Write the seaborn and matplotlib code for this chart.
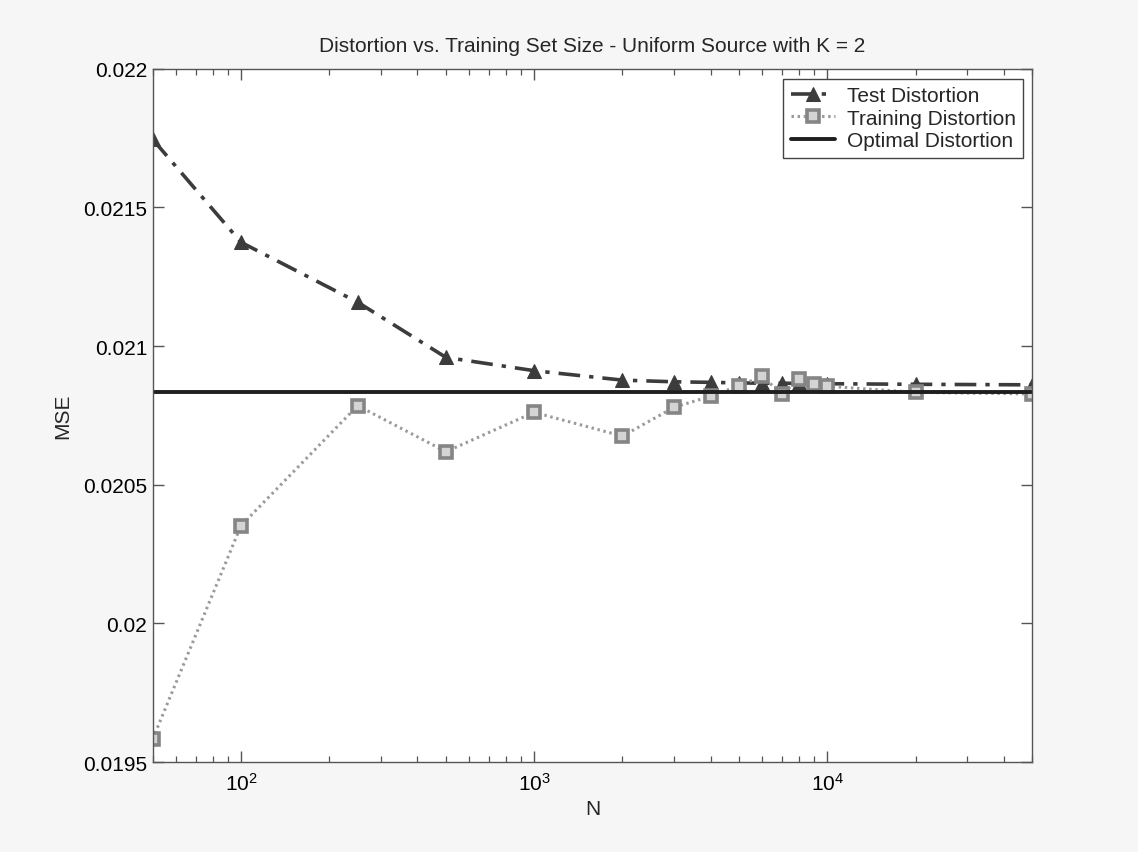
import numpy as np
import pandas as pd
import matplotlib
matplotlib.use("Agg")
import matplotlib.pyplot as plt
import seaborn as sns

# Training set sizes
n_values = [50, 100, 250, 500, 1000, 2000, 3000, 4000, 5000, 6000, 7000, 8000, 9000, 10000, 20000, 50000]
# Distortion measured on an independent test set
test_mse = [0.021745, 0.021374, 0.021158, 0.020959, 0.020911, 0.020877, 0.020871, 0.020869,
            0.020867, 0.020866, 0.020866, 0.020865, 0.020863, 0.020864, 0.020862, 0.020860]
# Distortion on the training set itself
train_mse = [0.019583, 0.020352, 0.020785, 0.020619, 0.020761, 0.020675, 0.020779, 0.020819,
             0.020857, 0.020891, 0.020826, 0.020881, 0.020863, 0.020855, 0.020833, 0.020827]
# Optimal distortion for a uniform source, K = 2 (1/48)
optimal_mse = 1.0 / 48.0

sns.set_theme(style="white")
plt.rcParams["font.family"] = ["Liberation Sans", "DejaVu Sans"]
plt.rcParams["mathtext.default"] = "regular"

df = pd.DataFrame({"N": n_values, "test": test_mse, "train": train_mse})

fig = plt.figure(figsize=(11.38, 8.53), dpi=100)
fig.patch.set_facecolor("#f6f6f6")
ax = fig.add_axes([0.1342, 0.1055, 0.9071 - 0.1342, 0.9183 - 0.1055])
ax.set_facecolor("white")

sns.lineplot(data=df, x="N", y="test", ax=ax, color="#3c3c3c", linewidth=2.6,
             linestyle=(0, (6, 2.5, 1.2, 2.5)), marker="^", markersize=10,
             markerfacecolor="#3c3c3c", markeredgecolor="#3c3c3c",
             label="Test Distortion")
sns.lineplot(data=df, x="N", y="train", ax=ax, color="#9a9a9a", linewidth=2.2,
             linestyle=(0, (0.8, 1.2)), marker="s", markersize=9,
             markerfacecolor="#d4d4d4", markeredgecolor="#858585", markeredgewidth=2.6,
             label="Training Distortion")
ax.axhline(optimal_mse, color="#1e1e1e", linewidth=2.8, label="Optimal Distortion")

ax.set_xscale("log")
ax.set_xlim(50, 50000)
ax.set_ylim(0.0195, 0.022)
ax.set_yticks([0.0195, 0.02, 0.0205, 0.021, 0.0215, 0.022])
ax.set_yticklabels(["0.0195", "0.02", "0.0205", "0.021", "0.0215", "0.022"])

for side in ["top", "bottom", "left", "right"]:
    ax.spines[side].set_visible(True)
    ax.spines[side].set_color("#555555")
    ax.spines[side].set_linewidth(1.0)

ax.tick_params(which="both", direction="in", top=True, right=True, bottom=True, left=True,
               color="#555555", labelsize=15, labelcolor="black")
ax.tick_params(which="major", length=8, width=1.0)
ax.tick_params(axis="y", which="major", pad=4)
ax.tick_params(axis="x", which="major", pad=7)
ax.tick_params(which="minor", length=4, width=0.9)
ax.minorticks_on()
ax.yaxis.set_minor_locator(matplotlib.ticker.NullLocator())

ax.set_xlabel("N", fontsize=15, labelpad=4)
ax.set_ylabel("MSE", fontsize=15, labelpad=8)
ax.set_title("Distortion vs. Training Set Size - Uniform Source with K = 2", fontsize=15, pad=13)

leg = ax.legend(loc="upper right", fontsize=15, frameon=True, fancybox=False,
                edgecolor="#444444", framealpha=1.0, borderpad=0.35, borderaxespad=0.0,
                handlelength=2.1, handletextpad=0.6, labelspacing=0.18,
                bbox_to_anchor=(0.9898, 0.9856))
leg.get_frame().set_linewidth(1.0)

fig.savefig("out.png", dpi=100, facecolor=fig.get_facecolor())
